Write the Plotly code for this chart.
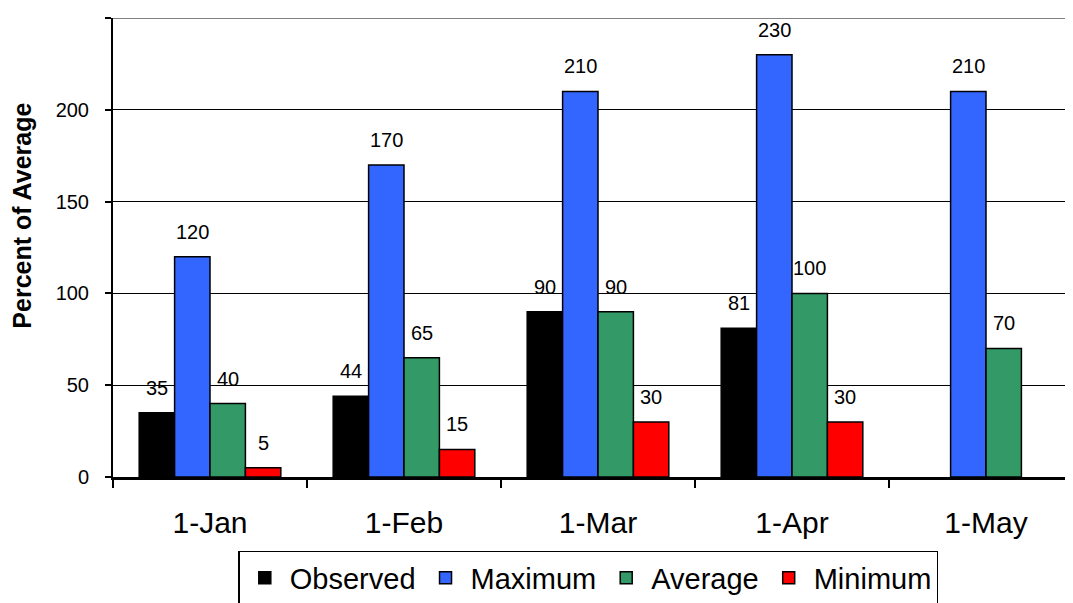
import plotly.graph_objects as go

categories = ["1-Jan", "1-Feb", "1-Mar", "1-Apr", "1-May"]
observed = [35, 44, 90, 81, None]
maximum = [120, 170, 210, 230, 210]
average = [40, 65, 90, 100, 70]
minimum = [5, 15, 30, 30, None]

series_names = ["Observed", "Maximum", "Average", "Minimum"]
series_values = [observed, maximum, average, minimum]
colors = ["#000000", "#3366FF", "#339966", "#FF0000"]
y_title = "Percent of Average"

FONT = "Arial, Liberation Sans, sans-serif"
W, H = 1075, 603
ML, MR, MT, MB = 105, 0, 10, 134
BARGAP = 0.27
XRANGE = [-0.5, 4.5]

fig = go.Figure()
for name, vals, col in zip(series_names, series_values, colors):
    fig.add_trace(go.Bar(
        x=categories, y=vals, name=name,
        marker=dict(color=col, line=dict(color="#000000", width=1.5)),
    ))

# value labels above bars
plot_w = W - ML - MR
px_per_cat = plot_w / (XRANGE[1] - XRANGE[0])
bar_px = px_per_cat * (1 - BARGAP) / len(series_names)
annotations = []
for i, vals in enumerate(series_values):
    shift = (i - (len(series_names) - 1) / 2) * bar_px
    for c, v in zip(categories, vals):
        if v is None:
            continue
        annotations.append(dict(
            x=c, y=v, text=str(v), showarrow=False, xref="x", yref="y",
            xanchor="center", yanchor="bottom", xshift=shift, yshift=12,
            font=dict(family=FONT, size=20, color="#000000"),
        ))

# y-axis title (placed as annotation to match its off-centre position)
annotations.append(dict(
    text="<b>" + y_title + "</b>", textangle=-90, showarrow=False,
    xref="paper", yref="paper", x=-0.094, y=0.569,
    xanchor="center", yanchor="middle",
    font=dict(family=FONT, size=25, color="#000000"),
))

fig.update_layout(
    width=W, height=H,
    margin=dict(l=ML, r=MR, t=MT, b=MB, pad=0, autoexpand=False),
    paper_bgcolor="white", plot_bgcolor="white",
    barmode="group", bargap=BARGAP, bargroupgap=0,
    font=dict(family=FONT, color="#000000"),
    showlegend=True,
    legend=dict(
        orientation="h", x=0.49, xanchor="center", y=-0.161, yanchor="top",
        bordercolor="#000000", borderwidth=1.5, bgcolor="white",
        font=dict(family=FONT, size=29, color="#000000"),
        itemwidth=40, tracegroupgap=0,
    ),
    annotations=annotations,
    shapes=[dict(type="line", xref="paper", x0=0, x1=1, yref="y", y0=250, y1=250,
                 line=dict(color="#808080", width=2), layer="above")],
)

fig.update_xaxes(
    range=XRANGE, showgrid=False, zeroline=False,
    showline=True, linecolor="#000000", linewidth=2.5,
    ticks="outside", tickson="boundaries", ticklen=8, tickwidth=1.5, tickcolor="#000000",
    tickfont=dict(family=FONT, size=30, color="#000000"),
    ticklabelstandoff=17,
)
fig.update_yaxes(
    range=[0, 250], dtick=50, tick0=0,
    showgrid=True, gridcolor="#000000", gridwidth=1, zeroline=False,
    showline=True, linecolor="#000000", linewidth=2,
    ticks="outside", ticklen=6, tickwidth=1.5, tickcolor="#000000",
    tickfont=dict(family=FONT, size=20, color="#000000"),
    ticklabelstandoff=12,
)

fig.write_html("out.html")
